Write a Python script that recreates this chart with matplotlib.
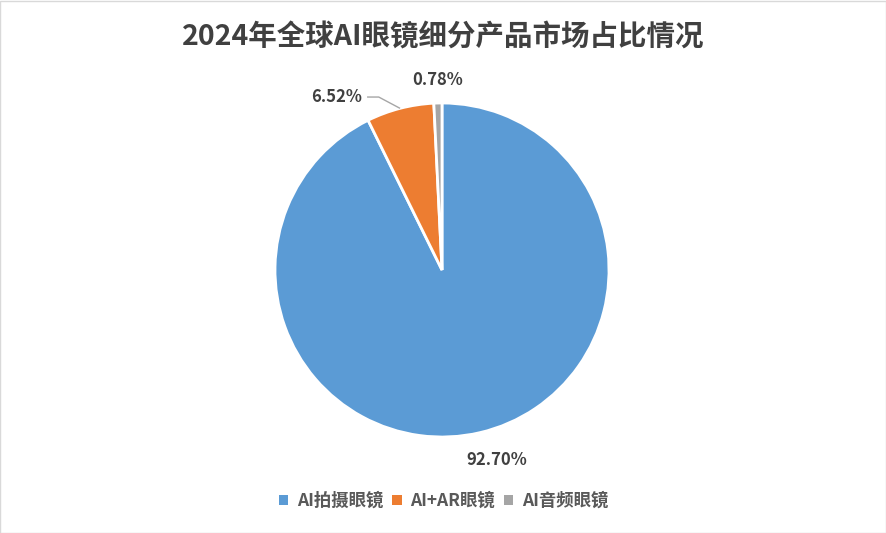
import numpy as np
import matplotlib
matplotlib.use("Agg")
import matplotlib.pyplot as plt
from matplotlib.patches import Rectangle, Patch

plt.rcParams['font.family'] = ['Noto Sans CJK SC', 'DejaVu Sans']

categories = ["AI拍摄眼镜", "AI+AR眼镜", "AI音频眼镜"]
values = [92.70, 6.52, 0.78]
labels = ["92.70%", "6.52%", "0.78%"]
colors = ["#5B9BD5", "#ED7D31", "#A5A5A5"]
title = "2024年全球AI眼镜细分产品市场占比情况"

W, H = 887, 533
fig = plt.figure(figsize=(W/100, H/100), dpi=100)
fig.patches.append(Rectangle((0.5/W, 0.5/H), 1-1.5/W, 1-1.5/H, transform=fig.transFigure,
                             fill=False, edgecolor="#D9D9D9", linewidth=1))

cx, cy, r = 442, 270, 167
ax = fig.add_axes([(cx-r)/W, (H-cy-r)/H, 2*r/W, 2*r/H])
wedges, _ = ax.pie(values, colors=colors, startangle=90, counterclock=False,
                   wedgeprops=dict(edgecolor="white", linewidth=2))
ax.set_xlim(-1, 1); ax.set_ylim(-1, 1)
ax.set_aspect('auto')
ax.axis('off')

txt_kw = dict(fontsize=12, fontweight='bold', color="#404040", ha='center', va='center')
# label placement relative to each wedge's mid angle
dists = [1.17, 1.07, 1.14]
dx = [0.06, -0.36, 0.0]
for i, (w, lab) in enumerate(zip(wedges, labels)):
    ang = np.deg2rad((w.theta1 + w.theta2) / 2)
    x, y = np.cos(ang), np.sin(ang)
    tx, ty = x*dists[i] + dx[i], y*dists[i]
    ax.text(tx, ty, lab, clip_on=False, **txt_kw)
    if i == 1:
        ax.plot([tx + 0.18, tx + 0.25, x], [ty, ty, y], color="#A6A6A6", lw=1,
                clip_on=False, solid_capstyle='butt')

fig.text(0.5, 1-37/H, title, fontsize=20.5, fontweight='bold', color="#404040",
         ha='center', va='center')

handles = [Patch(facecolor=c, edgecolor='none') for c in colors]
leg = fig.legend(handles, categories, loc='center', bbox_to_anchor=(0.5, 1-501/H),
                 ncol=3, frameon=False, handlelength=0.55, handleheight=0.55,
                 handletextpad=0.5, columnspacing=0.5,
                 prop=dict(family=['Noto Sans CJK SC', 'DejaVu Sans'], size=12.5, weight='bold'))
for t in leg.get_texts():
    t.set_color("#595959")

fig.savefig("out.png", dpi=100)
